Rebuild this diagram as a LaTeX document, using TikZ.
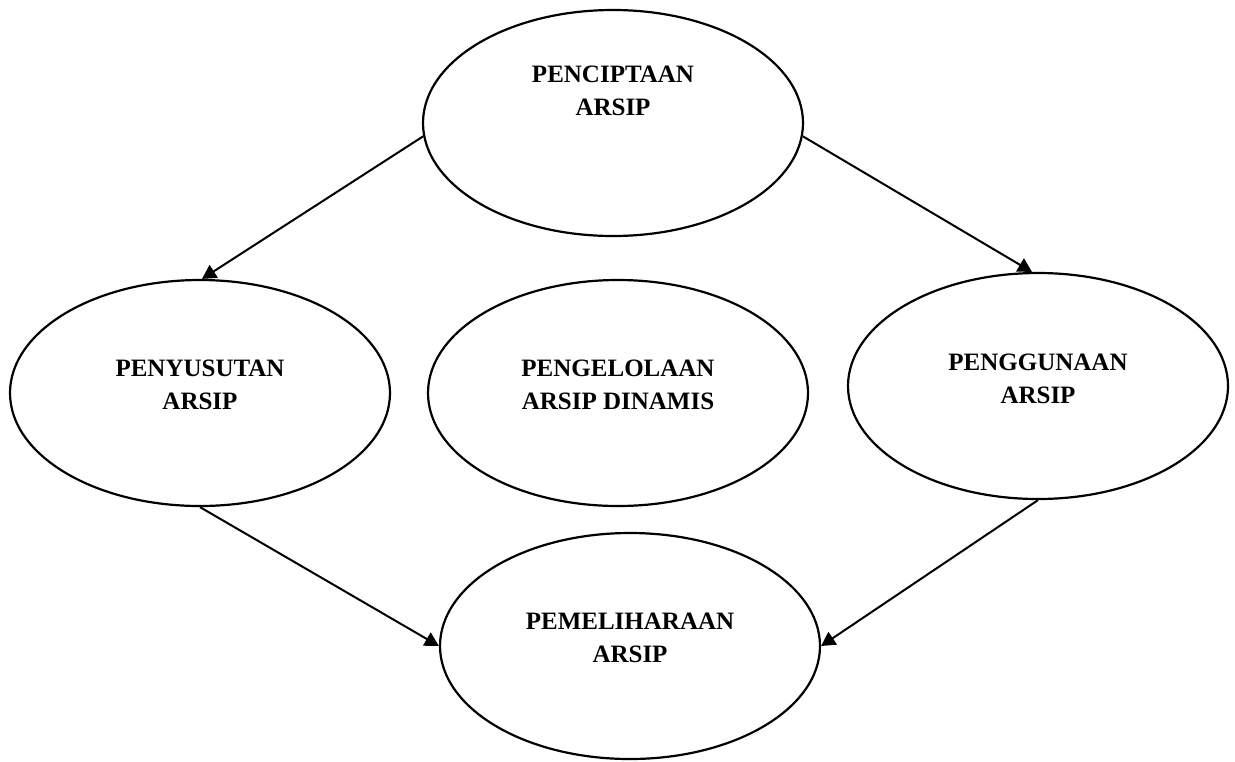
\documentclass[tikz,border=0pt]{standalone}
\usepackage{fontspec}
\setmainfont{Liberation Serif}
\usetikzlibrary{shapes.geometric,arrows.meta}

\tikzset{
  siklus/.style={ellipse, draw, line width=1.1pt, minimum width=190pt, minimum height=113pt, inner sep=0pt},
  judul/.style={align=center, inner sep=0pt, font=\fontsize{12.5}{16.5}\selectfont\bfseries},
  panah/.style={line width=1pt, -{Triangle[length=7pt,width=7.5pt]}}
}

\begin{document}
\begin{tikzpicture}[x=0.5pt, y=-0.5pt]
\useasboundingbox (0,0) rectangle (1235,761);

% Ellipses of the cycle
\node[siklus] (cipta) at (613,123) {};
\node[siklus] (susut) at (200,393) {};
\node[siklus] (kelola) at (618,393) {};
\node[siklus] (guna) at (1038,386) {};
\node[siklus] (pelihara) at (630,646) {};

% Texts, set a little above the centres
\node[judul] (cipta-t) at ([yshift=16pt]cipta.center) {PENCIPTAAN\\ARSIP};
\node[judul] (susut-t) at ([yshift=4pt]susut.center) {PENYUSUTAN\\ARSIP};
\node[judul] (kelola-t) at ([yshift=4pt]kelola.center) {PENGELOLAAN\\ARSIP DINAMIS};
\node[judul] (guna-t) at ([yshift=3.5pt]guna.center) {PENGGUNAAN\\ARSIP};
\node[judul] (pelihara-t) at ([yshift=4pt]pelihara.center) {PEMELIHARAAN\\ARSIP};

% Arrows
\draw[panah] (cipta.184) -- (susut.89);
\draw[panah] (cipta.-4) -- (guna.93);
\draw[panah] (susut.south) -- (pelihara.west);
\draw[panah] (guna.south) -- (pelihara.east);

\end{tikzpicture}
\end{document}
